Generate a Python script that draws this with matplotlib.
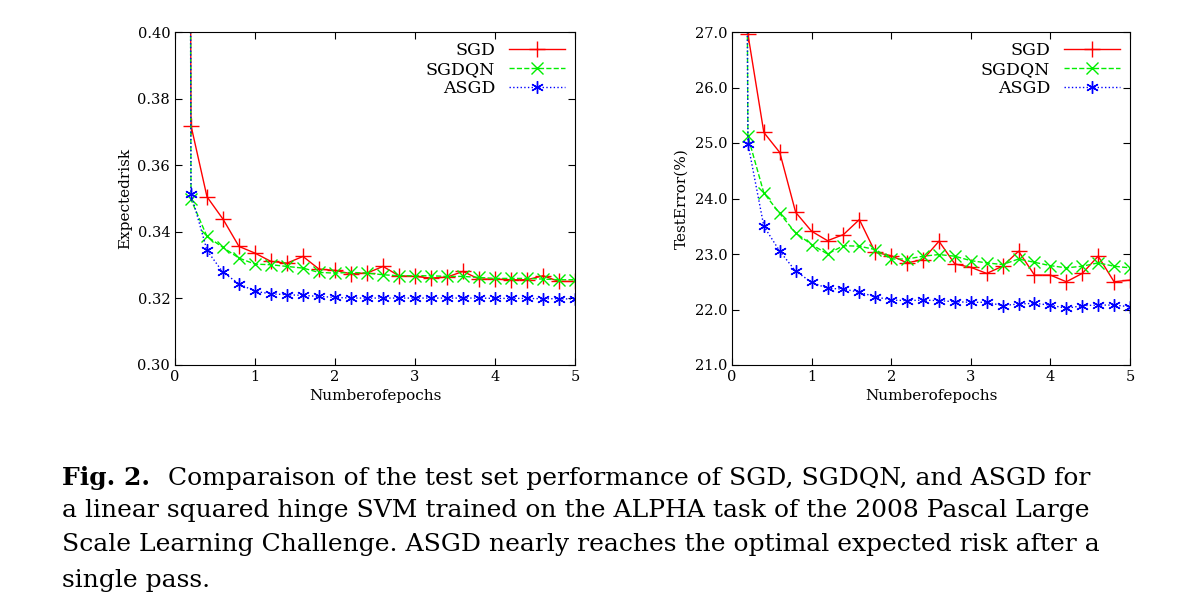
import matplotlib
matplotlib.use("Agg")
import matplotlib.pyplot as plt

epochs = [0.2 * i for i in range(1, 26)]

# expected risk (left panel)
risk_sgd = [0.3719, 0.3505, 0.3438, 0.3356, 0.3336, 0.3311, 0.3306, 0.3326, 0.3288, 0.3284,
            0.3274, 0.3276, 0.3296, 0.3268, 0.3266, 0.3261, 0.3264, 0.3281, 0.3258, 0.3258,
            0.3256, 0.3256, 0.3268, 0.3251, 0.3251]
risk_sgdqn = [0.3497, 0.3386, 0.3353, 0.3321, 0.3303, 0.3301, 0.3296, 0.3291, 0.3278, 0.3276,
              0.3278, 0.3276, 0.3271, 0.3268, 0.3268, 0.3268, 0.3266, 0.3266, 0.3263, 0.3260,
              0.3260, 0.3260, 0.3258, 0.3256, 0.3256]
risk_asgd = [0.3515, 0.3344, 0.3278, 0.3244, 0.3221, 0.3214, 0.3211, 0.3209, 0.3206, 0.3203,
             0.3201, 0.3201, 0.3201, 0.3201, 0.3201, 0.3201, 0.3201, 0.3201, 0.3201, 0.3200,
             0.3200, 0.3200, 0.3199, 0.3199, 0.3198]

# test error (right panel)
err_sgd = [26.96, 25.19, 24.83, 23.75, 23.41, 23.24, 23.35, 23.62, 23.03, 22.97,
           22.84, 22.90, 23.23, 22.82, 22.76, 22.65, 22.78, 23.05, 22.62, 22.62,
           22.50, 22.65, 22.96, 22.50, 22.53]
err_sgdqn = [25.12, 24.10, 23.73, 23.38, 23.17, 23.00, 23.15, 23.14, 23.08, 22.91,
             22.91, 22.96, 22.99, 22.96, 22.88, 22.84, 22.81, 22.91, 22.85, 22.79,
             22.75, 22.78, 22.84, 22.78, 22.75]
err_asgd = [24.99, 23.50, 23.05, 22.69, 22.49, 22.38, 22.37, 22.31, 22.23, 22.17,
            22.16, 22.17, 22.16, 22.14, 22.13, 22.13, 22.07, 22.10, 22.11, 22.08,
            22.02, 22.07, 22.08, 22.08, 22.05]

# the curves come in from above the plot just before the first marker
start_x = 0.19
risk_start = 0.45
err_start = 28.0

plt.rcParams['font.family'] = ['DejaVu Serif']

fig = plt.figure(figsize=(11.9, 6.1), dpi=100)
W, H = 1190, 610
ax1 = fig.add_axes([175 / W, 1 - 365 / H, 400 / W, 333 / H])
ax2 = fig.add_axes([732 / W, 1 - 365 / H, 398 / W, 333 / H])

styles = [("SGD", "red", "-", "+", 12),
          ("SGDQN", "#00ee00", "--", "x", 8),
          ("ASGD", "blue", ":", (6, 2, 0), 9)]


def panel(ax, series, start, ylim, yticks, ylabel, fmt):
    for (name, c, ls, mk, ms), ys in zip(styles, series):
        ax.plot([start_x] + epochs, [start] + ys, color=c, ls=ls, lw=1.0,
                marker=mk, ms=ms, markevery=list(range(1, 26)), mew=1.0, label=name)
    ax.set_xlim(0, 5)
    ax.set_ylim(*ylim)
    ax.set_xticks(range(6))
    ax.set_yticks(yticks)
    ax.set_yticklabels([fmt % v for v in yticks])
    ax.tick_params(direction="in", top=True, right=True, labelsize=10.5, length=5)
    ax.set_xlabel("Numberofepochs", fontsize=11)
    ax.set_ylabel(ylabel, fontsize=11)
    ax.legend(loc="upper right", frameon=False, markerfirst=False, fontsize=12.5,
              handlelength=3.2, borderaxespad=0.2, labelspacing=0.1)


panel(ax1, [risk_sgd, risk_sgdqn, risk_asgd], risk_start, (0.30, 0.40),
      [0.30, 0.32, 0.34, 0.36, 0.38, 0.40], "Expectedrisk", "%.2f")
panel(ax2, [err_sgd, err_sgdqn, err_asgd], err_start, (21.0, 27.0),
      [21, 22, 23, 24, 25, 26, 27], "TestError(%)", "%.1f")

lines = ["Comparaison of the test set performance of SGD, SGDQN, and ASGD for",
         "a linear squared hinge SVM trained on the ALPHA task of the 2008 Pascal Large",
         "Scale Learning Challenge. ASGD nearly reaches the optimal expected risk after a",
         "single pass."]
ys = [478, 511, 545, 580]
fs = 18
fig.text(62 / W, 1 - ys[0] / H, "Fig. 2.", fontsize=fs, weight="bold", va="center")
fig.text(168 / W, 1 - ys[0] / H, lines[0], fontsize=fs, va="center")
for t, y in zip(lines[1:], ys[1:]):
    fig.text(62 / W, 1 - y / H, t, fontsize=fs, va="center")

fig.savefig("out.png", dpi=100)
